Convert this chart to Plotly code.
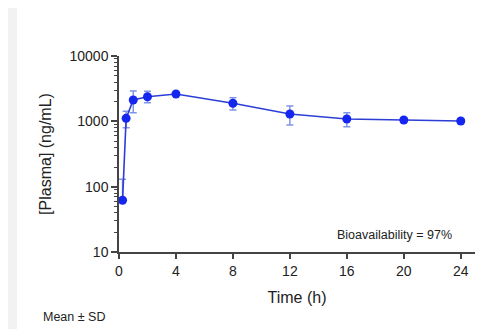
import plotly.graph_objects as go

time_h = [0.25, 0.5, 1, 2, 4, 8, 12, 16, 20, 24]
mean_conc = [62, 1110, 2120, 2380, 2620, 1890, 1295, 1087, 1047, 1010]
sd_conc = [68, 320, 780, 500, 120, 400, 420, 270, 80, 80]
sd_lower = [0, 310, 765, 450, 120, 400, 415, 260, 80, 80]

x_ticks = [0, 4, 8, 12, 16, 20, 24]
y_ticks = [10, 100, 1000, 10000]
y_minor = [m * 10 ** k for k in range(1, 4) for m in range(2, 10)]

FONT = "Liberation Sans, Arial, sans-serif"
AX = "#444444"

fig = go.Figure()
fig.add_trace(go.Scatter(
    x=time_h, y=mean_conc, mode="lines+markers",
    line=dict(color="#2c3ed6", width=1.6),
    marker=dict(color="#1526ef", size=9),
    error_y=dict(type="data", array=sd_conc, arrayminus=sd_lower,
                 color="#8195e6", thickness=1.5, width=3.5),
    showlegend=False,
))

fig.update_layout(
    width=493, height=321,
    margin=dict(l=111, r=26, t=48, b=77),
    paper_bgcolor="#f2f2f2",
    plot_bgcolor="rgba(0,0,0,0)",
    font=dict(family=FONT, color="#222222"),
    shapes=[dict(type="rect", xref="paper", yref="paper",
                 x0=-0.2865, x1=1.0534, y0=-0.5, y1=1.3,
                 fillcolor="white", line=dict(width=0), layer="below")],
    xaxis=dict(
        range=[0, 25], tickvals=x_ticks, ticks="outside", ticklen=5,
        tickwidth=1.5, tickcolor=AX, showline=True, linecolor=AX,
        linewidth=1.5, showgrid=False, zeroline=False,
        tickfont=dict(size=14, family=FONT, color="#222"),
        title=dict(text="Time (h)", font=dict(size=16, family=FONT, color="#222"),
                   standoff=14),
    ),
    yaxis=dict(
        type="log", range=[1, 4], tickvals=y_ticks, ticktext=[str(v) for v in y_ticks],
        ticks="outside", ticklen=6, tickwidth=1.5, tickcolor=AX,
        showline=True, linecolor=AX, linewidth=1.5, showgrid=False, zeroline=False,
        minor=dict(tickvals=y_minor, ticks="outside", ticklen=3, tickcolor=AX,
                   tickwidth=1, showgrid=False),
        tickfont=dict(size=14, family=FONT, color="#222"),
        title=dict(text="[Plasma] (ng/mL)", font=dict(size=16, family=FONT, color="#222"),
                   standoff=14),
    ),
    annotations=[
        dict(text="Bioavailability = 97%", xref="paper", yref="paper",
             x=(394 - 119) / 356, y=(252 - 235) / 196, xanchor="center", yanchor="middle",
             showarrow=False, font=dict(size=12.5, family=FONT, color="#222")),
        dict(text="Mean ± SD", xref="paper", yref="paper",
             x=(41 - 119) / 356, y=(252 - 317) / 196, xanchor="left", yanchor="middle",
             showarrow=False, font=dict(size=12.5, family=FONT, color="#222")),
    ],
)

fig.write_html("out.html")
